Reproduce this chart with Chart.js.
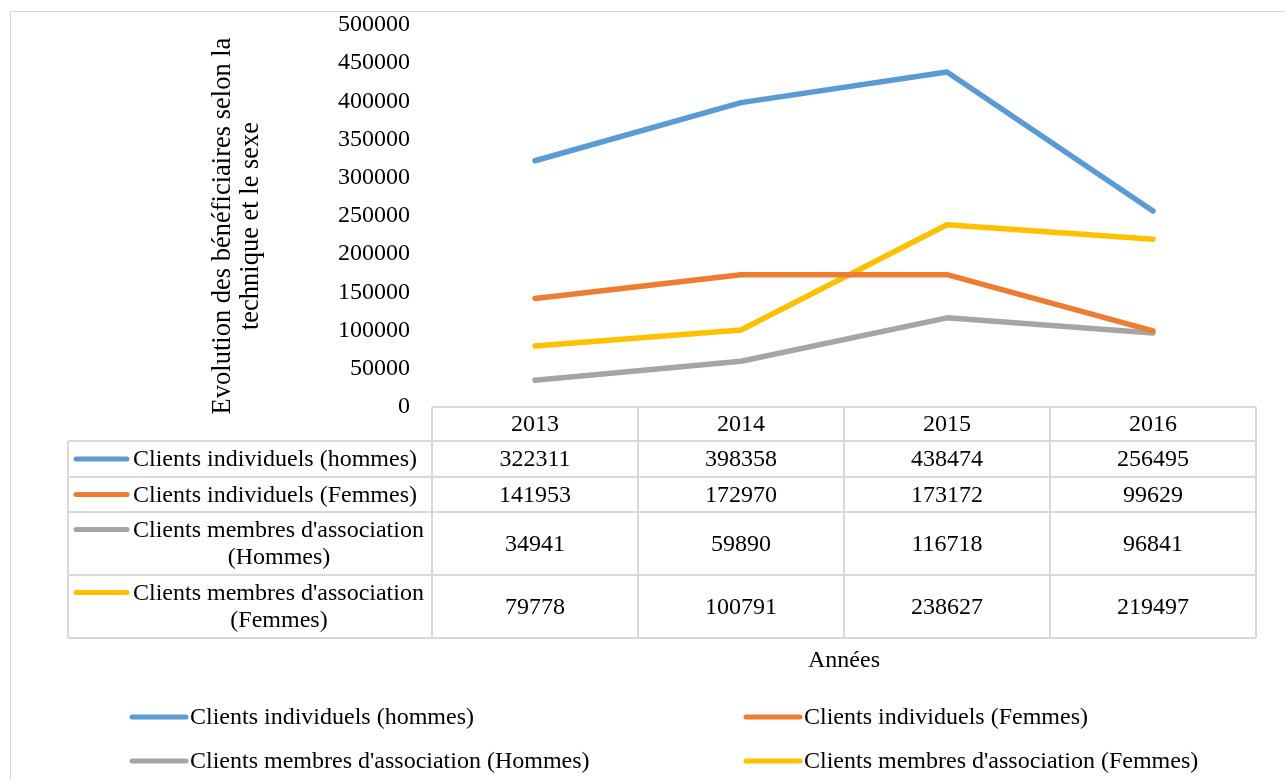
<!DOCTYPE html>
<html>
<head>
<meta charset="utf-8">
<script src="https://cdn.jsdelivr.net/npm/chart.js@4.4.0/dist/chart.umd.min.js"></script>
<style>
  body { margin: 0; background: #fff; }
  canvas { display: block; }
</style>
</head>
<body>
<canvas id="graphique" width="1285" height="780"></canvas>
<script>
// Données du graphique
const annees = ['2013', '2014', '2015', '2016'];
const indivHommes = [322311, 398358, 438474, 256495];
const indivFemmes = [141953, 172970, 173172, 99629];
const assocHommes = [34941, 59890, 116718, 96841];
const assocFemmes = [79778, 100791, 238627, 219497];
const nomsSeries = [
    'Clients individuels (hommes)',
    'Clients individuels (Femmes)',
    "Clients membres d'association (Hommes)",
    "Clients membres d'association (Femmes)"
];
// libellés du tableau (coupés sur deux lignes comme dans Excel)
const lignesTableau = [
    ['Clients individuels (hommes)'],
    ['Clients individuels (Femmes)'],
    ["Clients membres d'association", '(Hommes)'],
    ["Clients membres d'association", '(Femmes)']
];
const couleurs = ['#5B9BD5', '#ED7D31', '#A5A5A5', '#FFC000'];
const valeurs = [indivHommes, indivFemmes, assocHommes, assocFemmes];

const police = "'Liberation Serif', 'Times New Roman', serif";
const taille = 24;

// Tableau de données + titres + légende dessinés sous le graphique
const tableauPlugin = {
    id: 'tableau',
    afterDraw(chart) {
        const ctx = chart.ctx;
        const x = chart.scales.x;
        const area = chart.chartArea;
        ctx.save();

        // cadre du graphique
        ctx.strokeStyle = '#D9D9D9';
        ctx.lineWidth = 1;
        ctx.strokeRect(10.5, 11.5, 1400, 900);

        // grille du tableau
        const gauche = 68, debut = area.left, fin = area.right;
        const lignesY = [area.bottom, 441, 477, 512, 575, 638];
        ctx.strokeStyle = '#D9D9D9';
        ctx.lineWidth = 2;
        ctx.beginPath();
        lignesY.forEach((y, i) => {
            ctx.moveTo(i === 0 ? debut : gauche, y);
            ctx.lineTo(fin, y);
        });
        ctx.moveTo(gauche, 441); ctx.lineTo(gauche, 638);
        for (let i = 0; i <= annees.length; i++) {
            const xv = debut + (fin - debut) * i / annees.length;
            ctx.moveTo(xv, area.bottom); ctx.lineTo(xv, 638);
        }
        ctx.stroke();

        ctx.fillStyle = '#000';
        ctx.font = taille + 'px ' + police;
        ctx.textAlign = 'center';
        ctx.textBaseline = 'middle';

        // en-têtes (années)
        annees.forEach((a, i) => {
            ctx.fillText(a, x.getPixelForValue(i), (lignesY[0] + lignesY[1]) / 2 + 1);
        });

        // lignes du tableau
        valeurs.forEach((serie, r) => {
            const haut = lignesY[r + 1], bas = lignesY[r + 2];
            const milieu = (haut + bas) / 2;
            const lignes = lignesTableau[r];
            const y1 = lignes.length === 1 ? milieu + 1 : milieu - 13;

            ctx.strokeStyle = couleurs[r];
            ctx.lineWidth = 5;
            ctx.lineCap = 'round';
            ctx.beginPath();
            ctx.moveTo(76, y1 - 1); ctx.lineTo(127, y1 - 1);
            ctx.stroke();

            ctx.textAlign = 'left';
            ctx.fillText(lignes[0], 133, y1);
            if (lignes.length > 1) {
                ctx.textAlign = 'center';
                ctx.fillText(lignes[1], 279, y1 + 27);
            }
            ctx.textAlign = 'center';
            serie.forEach((v, i) => {
                ctx.fillText(String(v), x.getPixelForValue(i), milieu + 1);
            });
        });

        // titre de l'axe horizontal
        ctx.fillText('Années', (area.left + area.right) / 2, 661);

        // titre de l'axe vertical
        ctx.save();
        ctx.font = '26.5px ' + police;
        ctx.translate(0, 226);
        ctx.rotate(-Math.PI / 2);
        ctx.textBaseline = 'alphabetic';
        ctx.fillText('Evolution des bénéficiaires selon la', 0, 230);
        ctx.fillText('technique et le sexe', 0, 258);
        ctx.restore();

        // légende
        const positions = [[132, 718], [746, 718], [132, 762], [746, 762]];
        nomsSeries.forEach((nom, i) => {
            const [lx, ly] = positions[i];
            ctx.strokeStyle = couleurs[i];
            ctx.lineWidth = 5;
            ctx.lineCap = 'round';
            ctx.beginPath();
            ctx.moveTo(lx, ly - 1); ctx.lineTo(lx + 54, ly - 1);
            ctx.stroke();
            ctx.textAlign = 'left';
            ctx.fillText(nom, lx + 58, ly);
        });

        ctx.restore();
    }
};

new Chart(document.getElementById('graphique'), {
    type: 'line',
    data: {
        labels: annees,
        datasets: valeurs.map((serie, i) => ({
            label: nomsSeries[i],
            data: serie,
            borderColor: couleurs[i],
            backgroundColor: couleurs[i],
            borderWidth: 5.5,
            borderCapStyle: 'round',
            borderJoinStyle: 'round',
            pointRadius: 0,
            tension: 0
        }))
    },
    options: {
        responsive: false,
        animation: false,
        devicePixelRatio: 1,
        layout: {
            padding: { left: 0, right: 29, top: 25, bottom: 373 }
        },
        plugins: {
            legend: { display: false },
            tooltip: { enabled: false }
        },
        scales: {
            x: {
                display: false,
                offset: true
            },
            y: {
                min: 0,
                max: 500000,
                afterFit: (scale) => {
                    scale.width = 432;
                    scale.paddingTop = 0;
                    scale.paddingBottom = 0;
                },
                grid: { display: false, drawTicks: false },
                border: { display: false },
                ticks: {
                    stepSize: 50000,
                    padding: 22,
                    color: '#000',
                    font: { family: police, size: taille },
                    callback: (v) => String(v)
                }
            }
        }
    },
    plugins: [tableauPlugin]
});
</script>
</body>
</html>
